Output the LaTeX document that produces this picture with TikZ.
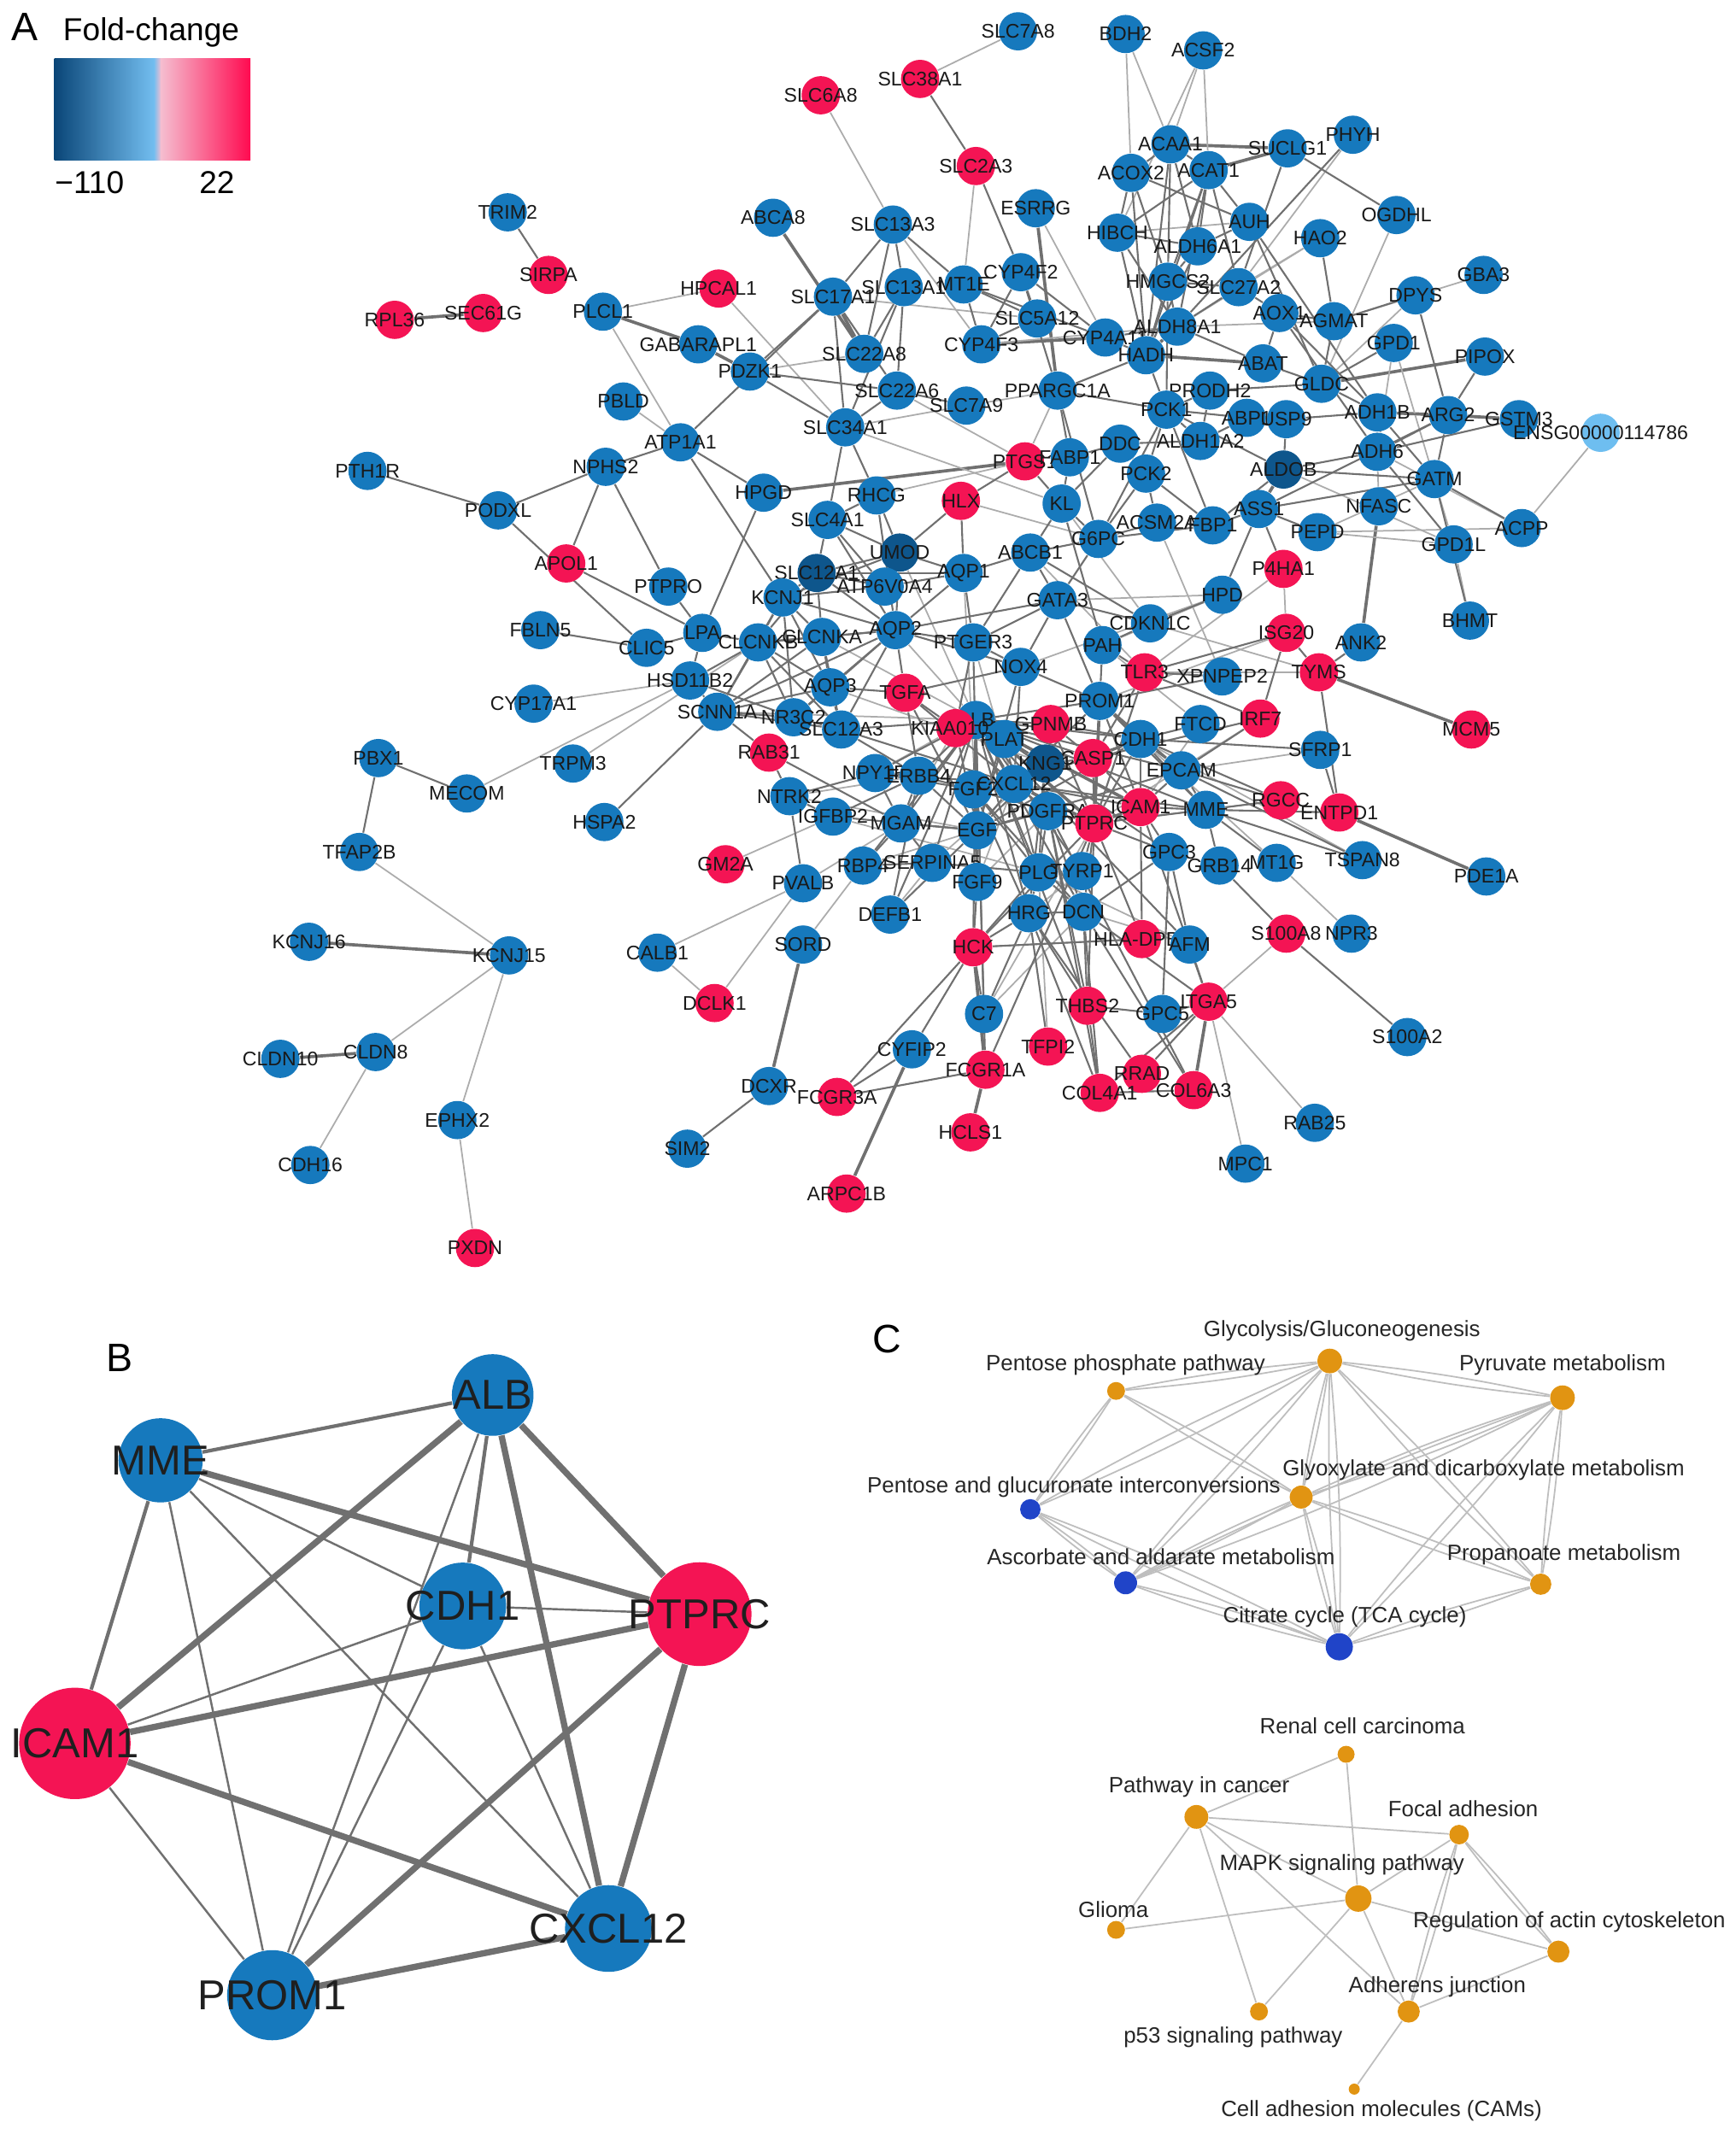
\documentclass[tikz,border=0pt]{standalone}
\usepackage{fontspec}
\setmainfont{Liberation Sans}
\pgfdeclarelayer{edges}
\pgfsetlayers{edges,main}
\definecolor{nblue}{RGB}{22,121,189}
\definecolor{ndark}{RGB}{14,86,140}
\definecolor{nred}{RGB}{244,20,84}
\definecolor{nlight}{RGB}{110,190,240}
\definecolor{corange}{RGB}{225,148,18}
\definecolor{cblue}{RGB}{32,68,200}
\definecolor{edgec}{RGB}{112,112,112}
\definecolor{edgel}{RGB}{172,172,172}
\definecolor{cedgec}{RGB}{190,190,190}
\definecolor{lg1}{RGB}{10,70,120}
\definecolor{lg2}{RGB}{115,190,240}
\definecolor{lg3}{RGB}{245,190,208}
\definecolor{lg4}{RGB}{255,10,80}
\tikzset{
  g/.style={circle, minimum size=0.45cm, inner sep=0pt, draw=none},
  gB/.style={g, fill=nblue},
  gR/.style={g, fill=nred},
  gD/.style={g, fill=ndark},
  gL/.style={g, fill=nlight},
  lbl/.style={font=\fontsize{6.6}{7}\selectfont, text=black!90, inner sep=0pt},
  ea/.style={draw=edgec, line width=0.6pt},
  eb/.style={draw=edgel, line width=0.5pt},
  ec/.style={draw=edgec, line width=1.05pt},
  bn/.style={circle, inner sep=0pt, draw=none, minimum size=#1},
  blbl/.style={font=\fontsize{14}{16}\selectfont, text=black!88, inner sep=0pt},
  bthick/.style={draw=edgec, line width=2.1pt},
  bmed/.style={draw=edgec, line width=1.2pt},
  bthin/.style={draw=edgec, line width=0.7pt},
  cn/.style={circle, inner sep=0pt, draw=none, fill=corange, minimum size=#1},
  cnb/.style={circle, inner sep=0pt, draw=none, fill=cblue, minimum size=#1},
  clbl/.style={font=\fontsize{7.4}{9}\selectfont, text=black!85, inner sep=0pt},
  cedge/.style={draw=cedgec, line width=0.5pt},
  panel/.style={anchor=base west, inner sep=0pt, font=\fontsize{13.3}{15}\selectfont},
  legtext/.style={anchor=base west, inner sep=0pt, font=\fontsize{10.6}{12}\selectfont}
}
\newcommand\gn[5]{\node[#1,label={[lbl]center:#3}] (#2) at (#4,#5) {};}
\begin{document}
\begin{tikzpicture}[x=0.016cm,y=-0.016cm]
\begin{pgfonlayer}{edges}
\fill[white] (0,0) rectangle (1275,1568);
\end{pgfonlayer}
\useasboundingbox (0,0) rectangle (1275,1568);
% ---------------- legend ----------------
\node[panel] (labA) at (8,30) {A};
\node[legtext] (fc) at (46,30) {Fold-change};
\shade[left color=lg1, right color=lg2] (40,43) rectangle (113.5,118);
\shade[left color=lg2, right color=lg3] (113,43) rectangle (118.5,118);
\shade[left color=lg3, right color=lg4] (118,43) rectangle (184,118);
\node[legtext] (lmin) at (40,142) {−110};
\node[legtext] (lmax) at (146,142) {22};
% ---------------- panel A nodes ----------------
\gn{gB}{SLC7A8}{SLC7A8}{748}{23}
\gn{gB}{BDH2}{BDH2}{827}{25}
\gn{gB}{ACSF2}{ACSF2}{884}{37}
\gn{gR}{SLC38A1}{SLC38A1}{676}{58}
\gn{gR}{SLC6A8}{SLC6A8}{603}{70}
\gn{gR}{SLC2A3}{SLC2A3}{717}{122}
\gn{gB}{ACAA1}{ACAA1}{860}{106}
\gn{gB}{SUCLG1}{SUCLG1}{946}{109}
\gn{gB}{PHYH}{PHYH}{994}{99}
\gn{gB}{ACOX2}{ACOX2}{831}{127}
\gn{gB}{ACAT1}{ACAT1}{888}{125}
\gn{gB}{ESRRG}{ESRRG}{761}{153}
\gn{gB}{ABCA8}{ABCA8}{568}{160}
\gn{gB}{SLC13A3}{SLC13A3}{656}{165}
\gn{gB}{TRIM2}{TRIM2}{373}{156}
\gn{gB}{HIBCH}{HIBCH}{821}{171}
\gn{gB}{AUH}{AUH}{918}{163}
\gn{gB}{OGDHL}{OGDHL}{1026}{158}
\gn{gB}{ALDH6A1}{ALDH6A1}{880}{181}
\gn{gB}{HAO2}{HAO2}{970}{175}
\gn{gR}{SIRPA}{SIRPA}{403}{202}
\gn{gR}{HPCAL1}{HPCAL1}{528}{212}
\gn{gB}{SLC17A1}{SLC17A1}{612}{218}
\gn{gB}{SLC13A1}{SLC13A1}{664}{211}
\gn{gB}{MT1E}{MT1E}{708}{209}
\gn{gB}{CYP4F2}{CYP4F2}{750}{200}
\gn{gB}{HMGCS2}{HMGCS2}{858}{207}
\gn{gB}{SLC27A2}{SLC27A2}{910}{211}
\gn{gB}{GBA3}{GBA3}{1090}{202}
\gn{gB}{DPYS}{DPYS}{1040}{217}
\gn{gR}{RPL36}{RPL36}{290}{235}
\gn{gR}{SEC61G}{SEC61G}{355}{230}
\gn{gB}{PLCL1}{PLCL1}{443}{229}
\gn{gB}{AOX1}{AOX1}{940}{230}
\gn{gB}{AGMAT}{AGMAT}{980}{236}
\gn{gB}{SLC5A12}{SLC5A12}{762}{234}
\gn{gB}{ALDH8A1}{ALDH8A1}{865}{240}
\gn{gB}{CYP4A11}{CYP4A11}{812}{248}
\gn{gB}{GABARAPL1}{GABARAPL1}{513}{253}
\gn{gB}{CYP4F3}{CYP4F3}{721}{253}
\gn{gB}{GPD1}{GPD1}{1024}{252}
\gn{gB}{SLC22A8}{SLC22A8}{635}{260}
\gn{gB}{HADH}{HADH}{842}{261}
\gn{gB}{PIPOX}{PIPOX}{1091}{262}
\gn{gB}{ABAT}{ABAT}{928}{267}
\gn{gB}{PDZK1}{PDZK1}{551}{273}
\gn{gB}{SLC22A6}{SLC22A6}{659}{287}
\gn{gB}{GLDC}{GLDC}{971}{282}
\gn{gB}{PPARGC1A}{PPARGC1A}{777}{287}
\gn{gB}{PRODH2}{PRODH2}{889}{287}
\gn{gB}{PCK1}{PCK1}{857}{301}
\gn{gB}{SLC7A9}{SLC7A9}{710}{298}
\gn{gB}{PBLD}{PBLD}{458}{295}
\gn{gB}{ABP1}{ABP1}{916}{307}
\gn{gB}{USP9}{USP9}{945}{308}
\gn{gB}{ADH1B}{ADH1B}{1012}{303}
\gn{gB}{ARG2}{ARG2}{1064}{305}
\gn{gB}{GSTM3}{GSTM3}{1116}{308}
\gn{gL}{ENSG}{ENSG00000114786}{1176}{318}
\gn{gB}{ATP1A1}{ATP1A1}{500}{325}
\gn{gB}{SLC34A1}{SLC34A1}{621}{314}
\gn{gB}{DDC}{DDC}{823}{326}
\gn{gB}{ALDH1A2}{ALDH1A2}{882}{324}
\gn{gB}{ADH6}{ADH6}{1012}{332}
\gn{gR}{PTGS1}{PTGS1}{753}{339}
\gn{gB}{FABP1}{FABP1}{786}{336}
\gn{gB}{PTH1R}{PTH1R}{270}{346}
\gn{gB}{NPHS2}{NPHS2}{445}{343}
\gn{gB}{HPGD}{HPGD}{561}{362}
\gn{gB}{PCK2}{PCK2}{842}{348}
\gn{gD}{ALDOB}{ALDOB}{943}{345}
\gn{gB}{GATM}{GATM}{1054}{352}
\gn{gB}{RHCG}{RHCG}{644}{364}
\gn{gR}{HLX}{HLX}{706}{368}
\gn{gB}{KL}{KL}{780}{370}
\gn{gB}{ASS1}{ASS1}{925}{374}
\gn{gB}{NFASC}{NFASC}{1013}{372}
\gn{gB}{PODXL}{PODXL}{366}{375}
\gn{gB}{SLC4A1}{SLC4A1}{608}{382}
\gn{gB}{G6PC}{G6PC}{807}{396}
\gn{gB}{ACSM2A}{ACSM2A}{850}{384}
\gn{gB}{FBP1}{FBP1}{891}{386}
\gn{gB}{PEPD}{PEPD}{968}{391}
\gn{gB}{ACPP}{ACPP}{1118}{388}
\gn{gD}{UMOD}{UMOD}{661}{406}
\gn{gB}{ABCB1}{ABCB1}{757}{406}
\gn{gB}{GPD1L}{GPD1L}{1068}{400}
\gn{gR}{APOL1}{APOL1}{416}{414}
\gn{gR}{P4HA1}{P4HA1}{943}{418}
\gn{gD}{SLC12A1}{SLC12A1}{600}{421}
\gn{gB}{AQP1}{AQP1}{708}{421}
\gn{gB}{ATP6V0A4}{ATP6V0A4}{650}{431}
\gn{gB}{KCNJ1}{KCNJ1}{575}{439}
\gn{gB}{HPD}{HPD}{898}{437}
\gn{gB}{PTPRO}{PTPRO}{491}{431}
\gn{gB}{GATA3}{GATA3}{777}{441}
\gn{gB}{CDKN1C}{CDKN1C}{845}{458}
\gn{gB}{FBLN5}{FBLN5}{397}{463}
\gn{gB}{LPA}{LPA}{516}{465}
\gn{gB}{CLCNKB}{CLCNKB}{557}{472}
\gn{gB}{CLCNKA}{CLCNKA}{604}{468}
\gn{gB}{AQP2}{AQP2}{658}{463}
\gn{gR}{ISG20}{ISG20}{945}{465}
\gn{gB}{ANK2}{ANK2}{1000}{472}
\gn{gB}{BHMT}{BHMT}{1080}{456}
\gn{gB}{CLIC5}{CLIC5}{475}{476}
\gn{gB}{PTGER3}{PTGER3}{715}{472}
\gn{gB}{PAH}{PAH}{810}{474}
\gn{gB}{HSD11B2}{HSD11B2}{507}{500}
\gn{gB}{NOX4}{NOX4}{750}{490}
\gn{gR}{TLR3}{TLR3}{841}{494}
\gn{gB}{XPNPEP2}{XPNPEP2}{898}{497}
\gn{gR}{TYMS}{TYMS}{969}{494}
\gn{gB}{AQP3}{AQP3}{610}{505}
\gn{gR}{TGFA}{TGFA}{665}{509}
\gn{gB}{CYP17A1}{CYP17A1}{392}{517}
\gn{gB}{SCNN1A}{SCNN1A}{527}{523}
\gn{gB}{PROM1}{PROM1}{808}{515}
\gn{gB}{NR3C2}{NR3C2}{583}{527}
\gn{gB}{SLC12A3}{SLC12A3}{618}{536}
\gn{gB}{ALB}{ALB}{717}{529}
\gn{gR}{KIAA0101}{KIAA0101}{702}{535}
\gn{gB}{PLAT}{PLAT}{738}{543}
\gn{gR}{GPNMB}{GPNMB}{772}{532}
\gn{gB}{FTCD}{FTCD}{882}{532}
\gn{gR}{IRF7}{IRF7}{926}{528}
\gn{gB}{CDH1}{CDH1}{838}{543}
\gn{gR}{CASP1}{CASP1}{803}{557}
\gn{gB}{SFRP1}{SFRP1}{970}{551}
\gn{gR}{MCM5}{MCM5}{1081}{536}
\gn{gD}{KNG1}{KNG1}{768}{561}
\gn{gR}{RAB31}{RAB31}{565}{553}
\gn{gB}{NPY1R}{NPY1R}{643}{568}
\gn{gB}{ERBB4}{ERBB4}{675}{570}
\gn{gB}{EPCAM}{EPCAM}{868}{566}
\gn{gB}{TRPM3}{TRPM3}{421}{561}
\gn{gB}{PBX1}{PBX1}{278}{557}
\gn{gB}{MECOM}{MECOM}{343}{583}
\gn{gB}{NTRK2}{NTRK2}{580}{585}
\gn{gB}{FGF2}{FGF2}{715}{580}
\gn{gB}{CXCL12}{CXCL12}{745}{576}
\gn{gB}{MME}{MME}{886}{595}
\gn{gR}{RGCC}{RGCC}{941}{588}
\gn{gR}{ENTPD1}{ENTPD1}{984}{597}
\gn{gB}{PDGFRA}{PDGFRA}{770}{596}
\gn{gR}{ICAM1}{ICAM1}{838}{593}
\gn{gR}{PTPRC}{PTPRC}{804}{605}
\gn{gB}{IGFBP2}{IGFBP2}{612}{600}
\gn{gB}{HSPA2}{HSPA2}{444}{604}
\gn{gB}{MGAM}{MGAM}{662}{605}
\gn{gB}{EGF}{EGF}{718}{610}
\gn{gB}{GPC3}{GPC3}{859}{626}
\gn{gB}{TFAP2B}{TFAP2B}{264}{626}
\gn{gB}{GRB14}{GRB14}{896}{636}
\gn{gB}{MT1G}{MT1G}{938}{634}
\gn{gB}{TSPAN8}{TSPAN8}{1001}{632}
\gn{gB}{RBP4}{RBP4}{634}{636}
\gn{gB}{SERPINA5}{SERPINA5}{685}{634}
\gn{gB}{PLG}{PLG}{763}{641}
\gn{gB}{TYRP1}{TYRP1}{795}{640}
\gn{gR}{GM2A}{GM2A}{533}{635}
\gn{gB}{PDE1A}{PDE1A}{1092}{644}
\gn{gB}{FGF9}{FGF9}{718}{648}
\gn{gB}{PVALB}{PVALB}{590}{649}
\gn{gB}{DEFB1}{DEFB1}{654}{672}
\gn{gB}{HRG}{HRG}{756}{671}
\gn{gB}{DCN}{DCN}{796}{670}
\gn{gR}{HLADPB1}{HLA-DPB1}{839}{690}
\gn{gB}{AFM}{AFM}{874}{694}
\gn{gR}{S100A8}{S100A8}{945}{686}
\gn{gB}{NPR3}{NPR3}{993}{686}
\gn{gB}{KCNJ16}{KCNJ16}{227}{692}
\gn{gB}{KCNJ15}{KCNJ15}{374}{702}
\gn{gB}{CALB1}{CALB1}{483}{700}
\gn{gB}{SORD}{SORD}{590}{694}
\gn{gR}{HCK}{HCK}{715}{696}
\gn{gR}{THBS2}{THBS2}{799}{739}
\gn{gB}{GPC5}{GPC5}{854}{745}
\gn{gR}{ITGA5}{ITGA5}{888}{736}
\gn{gR}{DCLK1}{DCLK1}{525}{737}
\gn{gB}{C7}{C7}{723}{745}
\gn{gR}{TFPI2}{TFPI2}{770}{769}
\gn{gB}{S100A2}{S100A2}{1034}{762}
\gn{gB}{CYFIP2}{CYFIP2}{670}{771}
\gn{gR}{FCGR1A}{FCGR1A}{724}{786}
\gn{gR}{RRAD}{RRAD}{839}{789}
\gn{gR}{COL4A1}{COL4A1}{808}{803}
\gn{gR}{COL6A3}{COL6A3}{877}{801}
\gn{gB}{CLDN10}{CLDN10}{206}{778}
\gn{gB}{CLDN8}{CLDN8}{276}{773}
\gn{gB}{DCXR}{DCXR}{565}{798}
\gn{gR}{FCGR3A}{FCGR3A}{615}{806}
\gn{gB}{RAB25}{RAB25}{966}{825}
\gn{gB}{EPHX2}{EPHX2}{336}{823}
\gn{gR}{HCLS1}{HCLS1}{713}{832}
\gn{gB}{SIM2}{SIM2}{505}{844}
\gn{gB}{CDH16}{CDH16}{228}{856}
\gn{gB}{MPC1}{MPC1}{915}{855}
\gn{gR}{ARPC1B}{ARPC1B}{622}{877}
\gn{gR}{PXDN}{PXDN}{349}{917}
% ---------------- panel A edges ----------------
\begin{pgfonlayer}{edges}
\foreach \a/\b in {ACAA1/SUCLG1, ACAT1/SUCLG1, ARG2/GSTM3, TYMS/MCM5, ENTPD1/PDE1A, ITGA5/COL6A3, FCGR1A/HCK, DCXR/SORD, KCNJ16/KCNJ15, CLDN10/CLDN8, RPL36/SEC61G, PLCL1/GABARAPL1, GABARAPL1/PDZK1, SLC17A1/SLC22A8, HPGD/PTGS1, ABCA8/SLC22A8, ESRRG/PPARGC1A, CYP4F3/CYP4A11, HADH/ABAT, ALDH8A1/HADH, NFASC/ANK2, ASS1/ALDOB, GLDC/PIPOX, ADH1B/ARG2, CYFIP2/ARPC1B, FCGR1A/HCLS1, ALB/PTPRC, ALB/ICAM1, ICAM1/PTPRC, PTPRC/PROM1, CXCL12/PTPRC}
  \draw[ec] (\a) -- (\b);
\foreach \a/\b in {SLC7A8/SLC38A1, SLC6A8/SLC13A3, SLC2A3/MT1E, BDH2/ACOX2, BDH2/ACAA1, ACSF2/ACAA1, ACSF2/ACAT1, ACSF2/HIBCH, HIBCH/AUH, HAO2/ALDH8A1, OGDHL/GLDC, GBA3/AGMAT, DPYS/GLDC, GPD1/GPD1L, GPD1/ADH6, ENSG/ACPP, P4HA1/ISG20, P4HA1/TLR3, HPD/PAH, TYMS/TLR3, SFRP1/EPCAM, MT1G/NPR3, S100A8/ITGA5, ITGA5/RAB25, ITGA5/MPC1, SORD/RBP4, CALB1/PVALB, CALB1/DCLK1, PVALB/DCLK1, PVALB/MGAM, GM2A/IGFBP2, NTRK2/ERBB4, TRPM3/CLCNKB, MECOM/HSD11B2, TFAP2B/KCNJ15, KCNJ15/CLDN8, KCNJ15/EPHX2, CLDN8/CDH16, EPHX2/PXDN, CYP17A1/HSD11B2, PLCL1/HPCAL1, PLCL1/ATP1A1, HPCAL1/SLC34A1, SLC17A1/SLC5A12, CYP4F3/ALDH8A1, PDZK1/SLC22A8, SLC34A1/SLC7A9, SLC34A1/KL, ATP1A1/PBLD, SLC7A9/PPARGC1A, PPARGC1A/PTGS1, ALDH8A1/AGMAT, SERPINA5/DEFB1, FTCD/PAH, XPNPEP2/ACSM2A, GPD1L/ALDOB, C7/PTPRC, ACPP/PEPD, ALB/AQP2, KIAA0101/PLAT, PHYH/SLC27A2, HAO2/SLC27A2, SLC13A3/CYP4F3, ESRRG/CYP4A11, SLC22A6/PTGS1, RHCG/PTGS1, HLX/G6PC, GATA3/HPD, CDKN1C/TYMS, KL/CDKN1C, ABCB1/TLR3, NOX4/HPD, PEPD/GATM, NFASC/ADH6, BHMT/GPD1L, ACPP/ADH6, GPD1L/PEPD, ISG20/PROM1, IRF7/PTPRC, FTCD/ICAM1, RGCC/PTPRC, MT1G/CDH1, TSPAN8/CDH1, HCK/HLADPB1, PLG/AFM, DCN/AFM, TYRP1/HRG, TFPI2/PLG, C7/DCN, FGF9/PDGFRA, FGF9/CXCL12, SERPINA5/KNG1, RBP4/EGF, MGAM/KIAA0101, IGFBP2/PLG, NPY1R/KIAA0101, NTRK2/EGF, SCNN1A/ALB, AQP3/KNG1, CLCNKA/ALB, UMOD/ALB, AQP1/EGF, PTGER3/CXCL12}
  \draw[eb] (\a) -- (\b);
\foreach \a/\b in {SLC38A1/SLC2A3, SLC2A3/CYP4F2, ACAA1/ACAT1, ACAA1/HADH, ACAA1/HMGCS2, ACAA1/ALDH6A1, ACAA1/ACOX2, ACAT1/HMGCS2, ACAT1/AUH, ACAT1/HADH, ACAT1/ALDH6A1, ACAT1/HIBCH, ACAT1/ALDH8A1, ACOX2/HADH, ACOX2/HIBCH, ACOX2/AUH, ACOX2/HMGCS2, SUCLG1/OGDHL, SUCLG1/SLC27A2, PHYH/ALDH8A1, HIBCH/ALDH6A1, HIBCH/HADH, HIBCH/ALDH8A1, AUH/GLDC, AUH/ADH1B, AUH/ALDH6A1, HAO2/AGMAT, DPYS/AGMAT, DPYS/ARG2, AOX1/ADH1B, AOX1/ADH6, AOX1/ABAT, AOX1/SLC27A2, AOX1/AGMAT, GLDC/ABAT, GLDC/AGMAT, GLDC/GPD1, GLDC/ADH1B, ARG2/PIPOX, ARG2/GATM, ARG2/ADH6, GSTM3/ADH6, GSTM3/ADH1B, ADH1B/ADH6, ADH1B/GATM, ASS1/P4HA1, ASS1/HPD, ASS1/FBP1, ASS1/GATM, ASS1/ARG2, ASS1/PEPD, HPD/CDKN1C, ISG20/TLR3, ISG20/IRF7, TYMS/ANK2, TYMS/ISG20, TYMS/ENTPD1, SFRP1/ENTPD1, SFRP1/CDH1, MME/RGCC, MME/ENTPD1, MME/TSPAN8, MME/MT1G, MME/GRB14, MME/EPCAM, MME/CDH1, EPCAM/RGCC, EPCAM/CDH1, EPCAM/IRF7, EPCAM/ICAM1, EPCAM/TSPAN8, GRB14/S100A8, S100A8/S100A2, ITGA5/GPC5, ITGA5/COL4A1, ITGA5/AFM, GPC3/GPC5, GPC3/DCN, GPC3/AFM, COL4A1/COL6A3, RRAD/ITGA5, RRAD/HRG, THBS2/GPC5, THBS2/HRG, THBS2/PTPRC, THBS2/COL4A1, TFPI2/HRG, C7/HCK, C7/HRG, FCGR1A/FCGR3A, FCGR3A/CYFIP2, FCGR3A/HCK, CYFIP2/HCK, DCXR/SIM2, PVALB/NTRK2, NTRK2/RAB31, NTRK2/NPY1R, RAB31/SCNN1A, RAB31/MGAM, HSPA2/SCNN1A, MECOM/PBX1, PBX1/TFAP2B, FBLN5/CLIC5, APOL1/NPHS2, APOL1/LPA, PODXL/NPHS2, PODXL/PTH1R, PODXL/CLIC5, NPHS2/ATP1A1, NPHS2/PTPRO, PTPRO/LPA, TRIM2/SIRPA}
  \draw[ea] (\a) -- (\b);
\foreach \a/\b in {SLC13A3/SLC17A1, SLC13A3/SLC22A8, SLC13A3/SLC13A1, SLC13A3/MT1E, SLC17A1/SLC22A6, SLC17A1/PDZK1, SLC17A1/SLC34A1, SLC13A1/SLC22A8, SLC13A1/SLC22A6, SLC13A1/SLC34A1, MT1E/CYP4F3, MT1E/CYP4A11, MT1E/SLC5A12, CYP4F2/CYP4F3, CYP4F2/CYP4A11, CYP4F2/SLC5A12, CYP4F2/PPARGC1A, CYP4A11/HADH, CYP4A11/ALDH8A1, CYP4F3/SLC5A12, PDZK1/SLC34A1, PDZK1/SLC22A6, SLC34A1/SLC22A6, SLC34A1/SLC4A1, SLC34A1/RHCG, ATP1A1/HPGD, ATP1A1/KCNJ1, ATP1A1/SLC17A1, HPGD/LPA, SLC7A9/SLC22A6, PPARGC1A/PCK1, PPARGC1A/FABP1, PPARGC1A/HADH, PPARGC1A/G6PC, HADH/HMGCS2, HADH/PCK1, HADH/ALDH6A1, HMGCS2/PCK1, HMGCS2/SLC27A2, HMGCS2/ALDH6A1, HMGCS2/ALDH8A1, SLC27A2/ACAT1, SLC27A2/ALDH8A1, ALDH8A1/ABAT, PCK1/PCK2, PCK1/FBP1, PCK1/G6PC, PCK1/ALDOB, PCK1/PRODH2, PCK1/ABP1, PCK1/ALDH1A2, ABP1/USP9, ABP1/ALDH1A2, USP9/ADH1B, USP9/ALDOB, PRODH2/GLDC, PRODH2/ALDH1A2, DDC/PCK2, DDC/FABP1, DDC/ALDH1A2, DDC/KL, PCK2/G6PC, PCK2/FBP1, PCK2/ACSM2A, G6PC/FBP1, G6PC/KL, G6PC/ACSM2A, G6PC/GATA3, G6PC/ABCB1, FBP1/ALDOB, ALDOB/ADH6, ALDOB/GATM, KL/PTGS1, KL/FABP1, KL/ABCB1, KL/PAH, ABCB1/AQP1, ABCB1/CDKN1C, ABCB1/GATA3, ABCB1/PTGER3, GATA3/AQP2, GATA3/CDKN1C, GATA3/NOX4, GATA3/PTGER3, GATA3/PROM1, PAH/CDKN1C, PAH/TLR3, PAH/PROM1, TLR3/XPNPEP2, TLR3/CASP1, TLR3/IRF7, TLR3/PTPRC, IRF7/CASP1, HLX/UMOD, HLX/PTGS1, HLX/AQP1, RHCG/UMOD, RHCG/SLC4A1, RHCG/AQP2}
  \draw[ea] (\a) -- (\b);
\foreach \a/\b in {SLC4A1/UMOD, SLC4A1/SLC12A1, SLC4A1/ATP6V0A4, SLC4A1/AQP2, UMOD/SLC12A1, UMOD/AQP1, UMOD/ATP6V0A4, UMOD/KCNJ1, UMOD/AQP2, SLC12A1/KCNJ1, SLC12A1/CLCNKB, SLC12A1/CLCNKA, SLC12A1/AQP2, SLC12A1/ATP6V0A4, SLC12A1/AQP1, AQP1/AQP2, AQP1/ATP6V0A4, AQP1/PTGER3, KCNJ1/CLCNKB, KCNJ1/CLCNKA, KCNJ1/AQP2, KCNJ1/AQP3, KCNJ1/SCNN1A, KCNJ1/ATP6V0A4, KCNJ1/NR3C2, CLCNKB/CLCNKA, CLCNKB/LPA, CLCNKB/AQP3, CLCNKB/SCNN1A, CLCNKB/HSD11B2, CLCNKB/AQP2, CLCNKB/NR3C2, CLCNKB/SLC12A3, CLCNKA/AQP2, CLCNKA/AQP3, CLCNKA/SLC12A3, CLCNKA/SCNN1A, LPA/CLIC5, LPA/HSD11B2, HSD11B2/SCNN1A, HSD11B2/NR3C2, SCNN1A/NR3C2, SCNN1A/SLC12A3, SCNN1A/AQP3, SCNN1A/AQP2, AQP2/AQP3, AQP2/PTGER3, AQP2/NR3C2, AQP2/SLC12A3, AQP2/NOX4, AQP2/TGFA, AQP3/TGFA, AQP3/SLC12A3, AQP3/NR3C2, PTGER3/NOX4, PTGER3/KIAA0101, PTGER3/EGF, NOX4/TGFA, NOX4/CXCL12, NOX4/PROM1, NOX4/EGF, TGFA/EGF, TGFA/ERBB4, TGFA/KIAA0101, KIAA0101/EGF, KIAA0101/ALB}
  \draw[ea] (\a) -- (\b);
\foreach \a/\b in {ALB/EGF, ALB/PLG, ALB/HRG, ALB/KNG1, ALB/RBP4, ALB/SERPINA5, ALB/FGF2, ALB/AFM, ALB/GPC3, ALB/DCN, ALB/FCGR1A, ALB/C7, ALB/PDGFRA, ALB/PLAT, ALB/EPCAM, ALB/NPY1R, ALB/MGAM, ALB/CXCL12, ALB/CDH1, ALB/MME, ALB/PROM1, ALB/HCK, ALB/FGF9, ALB/GPNMB, ALB/CASP1, ALB/TYRP1, ALB/THBS2, ALB/ERBB4, ALB/SLC12A3, ALB/DEFB1, MME/PTPRC, MME/ICAM1, MME/CXCL12, MME/PROM1, CDH1/PTPRC, CDH1/ICAM1, CDH1/CXCL12, CDH1/PROM1, ICAM1/CXCL12, ICAM1/PROM1, CXCL12/PROM1, EGF/ERBB4, EGF/FGF2, EGF/PDGFRA, EGF/CXCL12, EGF/PLAT, EGF/FGF9, EGF/CDH1, EGF/EPCAM, EGF/KNG1, EGF/IGFBP2, EGF/MGAM, FGF2/FGF9, FGF2/PDGFRA, FGF2/CXCL12, FGF2/ERBB4, FGF2/DCN, FGF2/HRG, FGF2/NPY1R, PLG/KNG1, PLG/HRG, PLG/PLAT, PLG/SERPINA5, PLG/FGF2, PLG/DCN, PLG/TYRP1, KNG1/HRG, KNG1/PLAT, KNG1/CASP1, KNG1/GPNMB, KNG1/CXCL12, CASP1/ICAM1, CASP1/PTPRC, CASP1/GPNMB, CASP1/CDH1, PTPRC/HCK, PTPRC/FCGR1A, PTPRC/HLADPB1, PTPRC/TYRP1, PTPRC/GPC3, PTPRC/DCN, PTPRC/PDGFRA, ICAM1/ITGA5, ICAM1/HLADPB1, ICAM1/GPC3, CDH1/FTCD, EPCAM/PROM1, DCN/THBS2, DCN/HRG, DCN/COL4A1, DCN/ITGA5, DCN/COL6A3, HRG/HCK, HRG/COL4A1, HCK/FGF9, HCK/PLG, PDGFRA/TGFA, PDGFRA/DCN, PDGFRA/THBS2, PDGFRA/COL4A1, PDGFRA/COL6A3, PDGFRA/PLG, GPNMB/CDH1, GPNMB/PTPRC, SERPINA5/MGAM, DEFB1/ERBB4, DEFB1/EGF, RBP4/MGAM, RBP4/SERPINA5, MGAM/ERBB4, MGAM/NPY1R, NPY1R/ERBB4, NPY1R/CXCL12, IGFBP2/ERBB4, IGFBP2/NTRK2, NR3C2/SLC12A3, SLC12A3/ERBB4, SLC12A3/CXCL12, XPNPEP2/PROM1, HLADPB1/HCK, RGCC/CDH1, BHMT/GATM, GPD1L/ADH6, ACPP/GATM}
  \draw[ea] (\a) -- (\b);
\end{pgfonlayer}
% ---------------- panel B ----------------
\node[panel] (labB) at (78,1008) {B};
\node[bn=0.96cm, fill=nblue, label={[blbl]center:ALB}] (bALB) at (362,1025) {};
\node[bn=0.99cm, fill=nblue, label={[blbl]center:MME}] (bMME) at (118,1073) {};
\node[bn=1.02cm, fill=nblue, label={[blbl]center:CDH1}] (bCDH1) at (340,1180) {};
\node[bn=1.22cm, fill=nred, label={[blbl]center:PTPRC}] (bPTPRC) at (514,1186) {};
\node[bn=1.31cm, fill=nred, label={[blbl]center:ICAM1}] (bICAM1) at (55,1281) {};
\node[bn=1.02cm, fill=nblue, label={[blbl]center:CXCL12}] (bCXCL12) at (447,1417) {};
\node[bn=1.06cm, fill=nblue, label={[blbl]center:PROM1}] (bPROM1) at (200,1466) {};
\begin{pgfonlayer}{edges}
\foreach \a/\b in {bALB/bICAM1, bALB/bPTPRC, bALB/bCXCL12, bICAM1/bPTPRC, bICAM1/bCXCL12, bPROM1/bPTPRC, bPROM1/bCXCL12, bMME/bPTPRC, bPTPRC/bCXCL12}
  \draw[bthick] (\a) -- (\b);
\foreach \a/\b in {bALB/bCDH1, bMME/bALB, bMME/bICAM1}
  \draw[bmed] (\a) -- (\b);
\foreach \a/\b in {bMME/bCDH1, bMME/bPROM1, bMME/bCXCL12, bALB/bPROM1, bCDH1/bPTPRC, bCDH1/bCXCL12, bCDH1/bPROM1, bICAM1/bPROM1, bICAM1/bCDH1}
  \draw[bthin] (\a) -- (\b);
\end{pgfonlayer}
% ---------------- panel C ----------------
\node[panel] (labC) at (641,994) {C};
\node[cn=0.29cm] (c1) at (977,1000) {};
\node[cn=0.21cm] (c2) at (820,1022) {};
\node[cn=0.29cm] (c3) at (1148,1027) {};
\node[cnb=0.24cm] (c4) at (757,1109) {};
\node[cn=0.27cm] (c5) at (956,1100) {};
\node[cnb=0.27cm] (c6) at (827,1163) {};
\node[cn=0.25cm] (c7) at (1132,1164) {};
\node[cnb=0.32cm] (c8) at (984,1210) {};
\node[cn=0.20cm] (c9) at (989,1289) {};
\node[cn=0.28cm] (c10) at (879,1335) {};
\node[cn=0.23cm] (c11) at (1072,1348) {};
\node[cn=0.31cm] (c12) at (998,1395) {};
\node[cn=0.21cm] (c13) at (820,1418) {};
\node[cn=0.26cm] (c14) at (1145,1434) {};
\node[cn=0.26cm] (c15) at (1035,1478) {};
\node[cn=0.21cm] (c16) at (925,1478) {};
\node[cn=0.13cm] (c17) at (995,1535) {};
\node[clbl] (t1) at (986,978) {Glycolysis/Gluconeogenesis};
\node[clbl] (t2) at (827,1003) {Pentose phosphate pathway};
\node[clbl] (t3) at (1148,1003) {Pyruvate metabolism};
\node[clbl] (t4) at (789,1093) {Pentose and glucuronate interconversions};
\node[clbl] (t5) at (1090,1080) {Glyoxylate and dicarboxylate metabolism};
\node[clbl] (t6) at (853,1144) {Ascorbate and aldarate metabolism};
\node[clbl] (t7) at (1149,1142) {Propanoate metabolism};
\node[clbl] (t8) at (988,1188) {Citrate cycle (TCA cycle)};
\node[clbl] (t9) at (1001,1268) {Renal cell carcinoma};
\node[clbl] (t10) at (881,1313) {Pathway in cancer};
\node[clbl] (t11) at (1075,1329) {Focal adhesion};
\node[clbl] (t12) at (986,1370) {MAPK signaling pathway};
\node[clbl] (t13) at (818,1403) {Glioma};
\node[clbl] (t14) at (1153,1412) {Regulation of actin cytoskeleton};
\node[clbl] (t15) at (1056,1460) {Adherens junction};
\node[clbl] (t16) at (906,1497) {p53 signaling pathway};
\node[clbl] (t17) at (1015,1551) {Cell adhesion molecules (CAMs)};
\begin{pgfonlayer}{edges}
\foreach \a/\b in {c1/c2, c1/c3, c1/c5, c1/c8, c1/c7, c1/c4, c1/c6, c2/c5, c2/c4, c3/c5, c3/c7, c3/c8, c3/c6, c5/c8, c5/c7, c5/c6, c4/c6, c4/c8, c6/c8, c7/c8, c11/c14, c11/c15}
  {\draw[cedge] (\a) to[bend left=3] (\b); \draw[cedge] (\a) to[bend right=3] (\b);}
\foreach \a/\b in {c9/c12, c9/c10, c10/c11, c10/c12, c10/c13, c10/c16, c10/c15, c12/c13, c12/c16, c12/c11, c12/c14, c12/c15, c14/c15, c15/c17}
  \draw[cedge] (\a) -- (\b);
\end{pgfonlayer}
\end{tikzpicture}
\end{document}
